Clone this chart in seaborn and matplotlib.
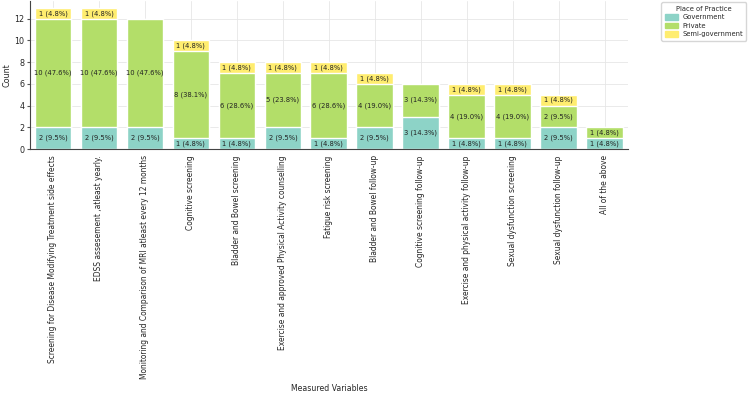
import pandas as pd
import matplotlib
matplotlib.use('Agg')
import matplotlib.pyplot as plt
import matplotlib.patches as mpatches
import seaborn as sns
import numpy as np

variables = [
    'Screening for Disease Modifying Treatment side effects',
    'EDSS assesement ,atleast yearly.',
    'Monitoring and Comparison of MRI atleast every 12 months',
    'Cognitive screening',
    'Bladder and Bowel screening',
    'Exercise and approved Physical Activity counselling',
    'Fatigue risk screening',
    'Bladder and Bowel follow-up',
    'Cognitive screening follow-up',
    'Exercise and physical activity follow-up',
    'Sexual dysfunction screening',
    'Sexual dysfunction follow-up',
    'All of the above',
]
government = [2, 2, 2, 1, 1, 2, 1, 2, 3, 1, 1, 2, 1]
private = [10, 10, 10, 8, 6, 5, 6, 4, 3, 4, 4, 2, 1]
semi_government = [1, 1, 0, 1, 1, 1, 1, 1, 0, 1, 1, 1, 0]
places = ['Government', 'Private', 'Semi-government']
n_respondents = 21

colors = ['#8dd3c7', '#b3de69', '#ffed6f']

df = pd.DataFrame({'variable': variables, 'Government': government,
                   'Private': private, 'Semi-government': semi_government})
df['gp'] = df['Government'] + df['Private']
df['total'] = df['gp'] + df['Semi-government']

sns.set_style('whitegrid')
plt.rcParams['font.family'] = ['DejaVu Sans']

fig, ax = plt.subplots(figsize=(7.5, 4.03), dpi=100)
fig.subplots_adjust(left=0.04, right=0.837, bottom=0.63, top=0.998)

# stacked look: draw cumulative totals back to front
sns.barplot(data=df, x='variable', y='total', color=colors[2], ax=ax, saturation=1, width=0.8)
sns.barplot(data=df, x='variable', y='gp', color=colors[1], ax=ax, saturation=1, width=0.8)
sns.barplot(data=df, x='variable', y='Government', color=colors[0], ax=ax, saturation=1, width=0.8)

for i, row in df.iterrows():
    bottom = 0
    for p in places:
        v = row[p]
        if v > 0:
            ax.text(i, bottom + v / 2, f'{v} ({v / n_respondents * 100:.1f}%)',
                    ha='center', va='center', fontsize=4.9, color='#222222')
        bottom += v

ax.set_xlabel('Measured Variables', fontsize=5.6, labelpad=3)
ax.set_ylabel('Count', fontsize=5.8, labelpad=2)
ax.tick_params(axis='x', labelrotation=90, labelsize=5.45, length=2.5, color='#555555', pad=2)
ax.tick_params(axis='y', labelsize=5.8, length=2.5, color='#555555', left=True, pad=1.5)
ax.set_yticks([0, 2, 4, 6, 8, 10, 12])
ax.set_ylim(0, 13.65)

ax.grid(True, color='#e6e6e6', linewidth=0.6)
ax.set_axisbelow(True)
sns.despine(ax=ax)
for s in ['left', 'bottom']:
    ax.spines[s].set_color('#444444')
    ax.spines[s].set_linewidth(0.8)

handles = [mpatches.Patch(color=c, label=p) for c, p in zip(colors, places)]
ax.legend(handles=handles, title='Place of Practice', loc='upper left',
          bbox_to_anchor=(1.056, 0.99), fontsize=4.9, title_fontsize=4.9,
          frameon=True, handlelength=2.0, handleheight=0.9, borderpad=0.5,
          labelspacing=0.35, handletextpad=0.6, borderaxespad=0)

fig.savefig('out.png', dpi=100)
